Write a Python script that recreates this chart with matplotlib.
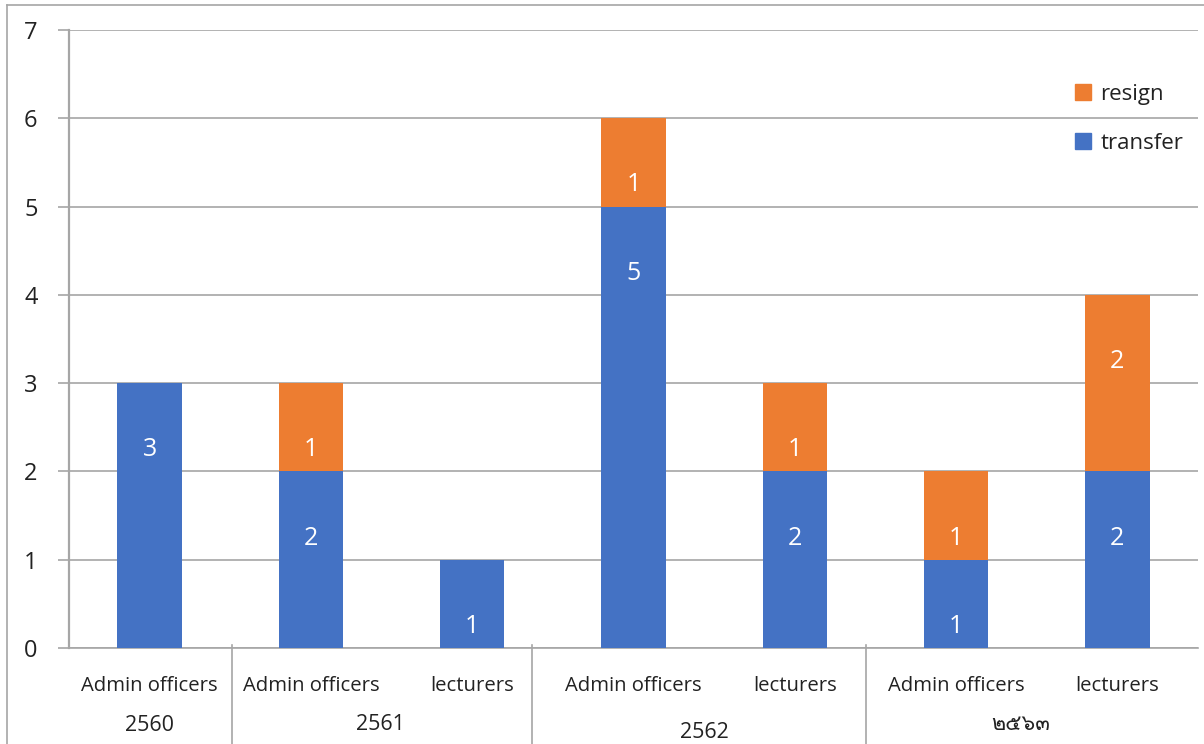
import matplotlib
matplotlib.use("Agg")
import matplotlib.pyplot as plt
from matplotlib import font_manager
from matplotlib.ft2font import FT2Font
from matplotlib.lines import Line2D
from matplotlib.patches import Rectangle

# ---- data ----
roles = ["Admin officers", "Admin officers", "lecturers", "Admin officers",
         "lecturers", "Admin officers", "lecturers"]
years = ["2560", "2561", "2562", "๒๕๖๓"]
transfer = [3, 2, 1, 5, 2, 1, 2]
resign = [0, 1, 0, 1, 1, 1, 2]
yticks = [0, 1, 2, 3, 4, 5, 6, 7]

BLUE = "#4472C4"
ORANGE = "#ED7D31"
GRID = "#A6A6A6"
TEXT = "#222222"


def thai_font():
    """Return the name of an installed family that has Thai digits."""
    seen = set()
    for f in font_manager.fontManager.ttflist:
        if f.name in seen:
            continue
        seen.add(f.name)
        try:
            cmap = FT2Font(f.fname).get_charmap()
        except Exception:
            continue
        if 0x0E52 in cmap and 0x0E53 in cmap:
            return f.name
    return None


families = ["Open Sans", "DejaVu Sans"]
tf = thai_font()
if tf:
    families.append(tf)
plt.rcParams["font.family"] = families

fig = plt.figure(figsize=(12.04, 7.44), dpi=100)
ax = fig.add_axes([69 / 1204, 1 - 648 / 744, (1198 - 69) / 1204, (648 - 30) / 744])

x = list(range(len(roles)))
ax.bar(x, transfer, width=0.4, color=BLUE, zorder=3, label="transfer")
ax.bar(x, resign, width=0.4, bottom=transfer, color=ORANGE, zorder=3,
       label="resign")

# value labels placed just inside the top end of each segment
for xi, t, r in zip(x, transfer, resign):
    if t > 0:
        ax.annotate(str(t), (xi, t), xytext=(0, -48), textcoords="offset points",
                    ha="center", va="center", color="white", fontsize=18,
                    zorder=4)
    if r > 0:
        ax.annotate(str(r), (xi, t + r), xytext=(0, -48),
                    textcoords="offset points", ha="center", va="center",
                    color="white", fontsize=18, zorder=4)

ax.set_xlim(-0.5, 6.5)
ax.set_ylim(0, 7)
ax.set_yticks(yticks)
ax.set_yticklabels([str(v) for v in yticks], fontsize=17, color=TEXT)
ax.yaxis.grid(True, color=GRID, linewidth=1.2, zorder=0)
ax.tick_params(axis="y", length=8, width=1.2, color=GRID, pad=19.5)
for lab in ax.get_yticklabels():
    lab.set_horizontalalignment("center")
ax.set_xticks([])
for side in ["top", "right"]:
    ax.spines[side].set_visible(False)
ax.spines["left"].set_color(GRID)
ax.spines["left"].set_linewidth(1.6)
ax.spines["bottom"].set_color(GRID)
ax.spines["bottom"].set_linewidth(1.2)

# category axis: role labels, year labels and group separators
trans = ax.get_xaxis_transform()
for xi, name in zip(x, roles):
    ax.text(xi, -0.062, name, transform=trans, ha="center", va="center",
            fontsize=14.6, color=TEXT, clip_on=False)

year_pos = [0.0, 1.43, 3.44, 5.40]
year_y = [-0.126, -0.124, -0.137, -0.124]
for xp, yp, yr in zip(year_pos, year_y, years):
    ax.text(xp, yp, yr, transform=trans, ha="center", va="center",
            fontsize=15.5, color=TEXT, clip_on=False)

for sx in [0.51, 2.37, 4.44]:
    ax.add_line(Line2D([sx, sx], [0.005, -0.2], transform=trans, color=GRID,
                       linewidth=1.2, clip_on=False))

# legend (no frame, gridline shows through)
handles = [Rectangle((0, 0), 1, 1, color=ORANGE), Rectangle((0, 0), 1, 1, color=BLUE)]
ax.legend(handles, ["resign", "transfer"], loc="upper left",
          bbox_to_anchor=(0.873, 0.945), frameon=False, fontsize=16,
          handlelength=0.72, handleheight=0.72, handletextpad=0.45,
          labelspacing=1.25, labelcolor=TEXT)

# outer chart border
fig.add_artist(Line2D([7 / 1204, 7 / 1204], [0, 1 - 5 / 744], color=GRID,
                      linewidth=1.2, transform=fig.transFigure))
fig.add_artist(Line2D([7 / 1204, 1], [1 - 5 / 744, 1 - 5 / 744], color=GRID,
                      linewidth=1.2, transform=fig.transFigure))

fig.savefig("out.png", dpi=100)
